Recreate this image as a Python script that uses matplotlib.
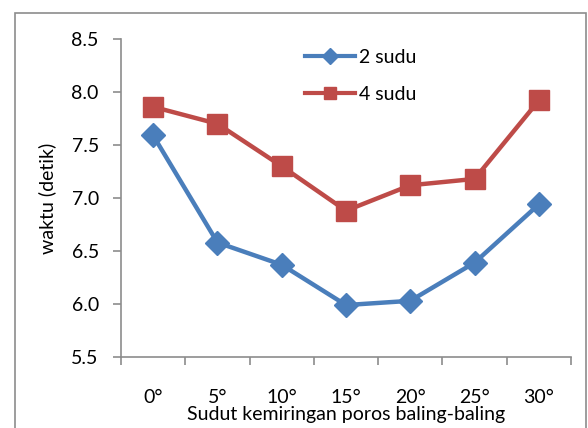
import matplotlib
matplotlib.use("Agg")
import matplotlib.pyplot as plt
from matplotlib.patches import Rectangle
from matplotlib.lines import Line2D

categories = ["0°", "5°", "10°", "15°", "20°", "25°", "30°"]
sudu2 = [7.59, 6.58, 6.37, 5.99, 6.03, 6.39, 6.94]
sudu4 = [7.86, 7.70, 7.30, 6.88, 7.12, 7.18, 7.92]
yticks = [5.5, 6.0, 6.5, 7.0, 7.5, 8.0, 8.5]

plt.rcParams['font.family'] = ['Lato', 'DejaVu Sans']
FS = 14

W, H = 588, 428
fig = plt.figure(figsize=(W / 100, H / 100), dpi=100)

# chart frame
fig.patches.append(Rectangle((15 / W, -0.05), (586 - 15) / W, (H - 13) / H + 0.05,
                             transform=fig.transFigure, fill=False,
                             edgecolor="#8c8c8c", linewidth=1.2))

left, right, top, bottom = 121, 571, 39, 357
ax = fig.add_axes([left / W, 1 - bottom / H, (right - left) / W, (bottom - top) / H])

blue = "#4A7EBB"
red = "#BE4B48"
x = list(range(len(categories)))
ax.plot(x, sudu2, color=blue, linewidth=3.2, marker="D", markersize=12,
        label="2 sudu", zorder=3)
ax.plot(x, sudu4, color=red, linewidth=3.2, marker="s", markersize=14,
        label="4 sudu", zorder=3)

ax.set_xlim(-0.5, len(categories) - 0.5)
ax.set_ylim(5.5, 8.5)
ax.set_yticks(yticks)
ax.set_yticklabels([f"{v:.1f}" for v in yticks], fontsize=FS)
ax.set_xticks(x)
ax.set_xticklabels(categories, fontsize=FS)
ax.tick_params(axis="x", length=0, pad=23)
ax.tick_params(axis="y", length=6, color="#8c8c8c", width=1.2, pad=10)

# boundary tick marks between categories
ax.set_xticks([i - 0.5 for i in range(len(categories) + 1)], minor=True)
ax.tick_params(axis="x", which="minor", length=6, color="#8c8c8c", width=1.2)

for s in ("top", "right"):
    ax.spines[s].set_visible(False)
for s in ("left", "bottom"):
    ax.spines[s].set_color("#8c8c8c")
    ax.spines[s].set_linewidth(1.2)

ax.set_xlabel("Sudut kemiringan poros baling-baling", fontsize=FS, labelpad=0)
ax.set_ylabel("waktu (detik)", fontsize=FS, labelpad=11)

handles = [Line2D([], [], color=blue, linewidth=3, marker="D", markersize=8),
           Line2D([], [], color=red, linewidth=3, marker="s", markersize=9)]
ax.legend(handles, ["2 sudu", "4 sudu"], loc="upper left",
          bbox_to_anchor=((291 - left) / (right - left), 1.0 + 4 / (bottom - top)),
          frameon=False, fontsize=FS, handlelength=2.6, handletextpad=0.2,
          labelspacing=1.05, borderaxespad=0.3)

fig.savefig("out.png", dpi=100)
